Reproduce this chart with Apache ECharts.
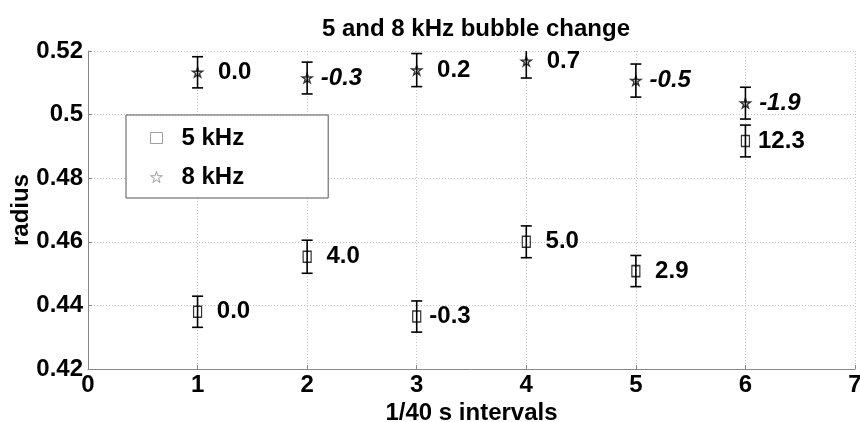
<!DOCTYPE html>
<html>
<head>
<meta charset="utf-8">
<title>5 and 8 kHz bubble change</title>
<script src="https://cdn.jsdelivr.net/npm/echarts@6/dist/echarts.min.js"></script>
<style>
  html, body { margin: 0; padding: 0; background: #fff; }
  #chart { width: 860px; height: 422px; }
</style>
</head>
<body>
<div id="chart"></div>
<script>
// Time steps (1/40 s intervals)
const steps = [1, 2, 3, 4, 5, 6];

// Mean bubble radius and error half-widths, 5 kHz
const radius5 = [0.4380, 0.4553, 0.4365, 0.4600, 0.4508, 0.4917];
const err5 = [0.0049, 0.0052, 0.0049, 0.0050, 0.0049, 0.0050];
// Percent change labels, 5 kHz
const change5 = [0.0, 4.0, -0.3, 5.0, 2.9, 12.3];

// Mean bubble radius and error half-widths, 8 kHz
const radius8 = [0.5133, 0.5115, 0.5140, 0.5168, 0.5107, 0.5036];
const err8 = [0.0049, 0.0050, 0.0052, 0.0053, 0.0052, 0.0050];
// Percent change labels, 8 kHz
const change8 = [0.0, -0.3, 0.2, 0.7, -0.5, -1.9];

const yTicks = [0.42, 0.44, 0.46, 0.48, 0.5, 0.52];
const seriesNames = ['5 kHz', '8 kHz'];

const FONT = '"Liberation Sans", Arial, Helvetica, sans-serif';
const FS = 24;
const STAR = 'path://M50,0 L61,35 L98,35 L68,57 L79,91 L50,70 L21,91 L32,57 L2,35 L39,35 Z';

// printf-style "%4.1f"
function fmt(v) { return v.toFixed(1).padStart(4, ' '); }

function pointData(radius, change, italicNeg) {
  return steps.map((x, i) => ({
    value: [x, radius[i]],
    label: {
      formatter: fmt(change[i]),
      fontStyle: (italicNeg && change[i] < 0) ? 'italic' : 'normal'
    }
  }));
}

function barData(radius, err) {
  return steps.map((x, i) => [x, radius[i] - err[i], radius[i] + err[i]]);
}

function renderErrorBar(params, api) {
  const x = api.value(0);
  const lo = api.coord([x, api.value(1)]);
  const hi = api.coord([x, api.value(2)]);
  const cap = 5.5;
  const style = { stroke: '#000', lineWidth: 1.6 };
  return {
    type: 'group',
    children: [
      { type: 'line', shape: { x1: lo[0], y1: lo[1], x2: hi[0], y2: hi[1] }, style },
      { type: 'line', shape: { x1: lo[0] - cap, y1: lo[1], x2: lo[0] + cap, y2: lo[1] }, style },
      { type: 'line', shape: { x1: hi[0] - cap, y1: hi[1], x2: hi[0] + cap, y2: hi[1] }, style }
    ]
  };
}

const labelStyle = {
  show: true,
  position: 'right',
  distance: 8,
  color: '#000',
  opacity: 1,
  textBorderWidth: 0,
  fontFamily: FONT,
  fontWeight: 'bold',
  fontSize: FS
};

const textBold = { fontFamily: FONT, fontWeight: 'bold', fontSize: FS, color: '#000' };

const chart = echarts.init(document.getElementById('chart'), null, { renderer: 'canvas' });

chart.setOption({
  animation: false,
  backgroundColor: '#fff',
  title: {
    text: '5 and 8 kHz bubble change',
    left: 471,
    textAlign: 'center',
    top: 12,
    textStyle: textBold
  },
  legend: {
    left: 126,
    top: 115,
    orient: 'vertical',
    padding: [11, 84, 9, 24],
    itemGap: 15,
    itemWidth: 12,
    itemHeight: 11,
    borderColor: '#555',
    borderWidth: 1,
    backgroundColor: '#fff',
    selectedMode: false,
    itemStyle: { color: 'rgba(0,0,0,0)', borderColor: '#888', borderWidth: 1 },
    textStyle: Object.assign({ padding: [0, 0, 0, 14] }, textBold),
    data: [
      { name: seriesNames[0], icon: 'rect' },
      { name: seriesNames[1], icon: STAR }
    ]
  },
  grid: { left: 88, right: 5, top: 51, bottom: 53, outerBoundsMode: 'none', containLabel: false },
  xAxis: {
    type: 'value',
    min: 0,
    max: 7,
    interval: 1,
    name: '1/40 s intervals',
    nameLocation: 'middle',
    nameGap: 32,
    nameMoveOverlap: false,
    nameTextStyle: textBold,
    axisLine: { show: true, onZero: false, lineStyle: { color: '#888', width: 1 } },
    axisTick: { show: true, inside: true, length: 4, lineStyle: { color: '#888' } },
    axisLabel: Object.assign({ margin: 4, hideOverlap: false }, textBold),
    splitLine: { show: true, lineStyle: { color: '#c4c4c4', type: [1, 2], width: 1 } }
  },
  yAxis: {
    type: 'value',
    min: yTicks[0],
    max: yTicks[yTicks.length - 1],
    interval: 0.02,
    name: 'radius',
    nameLocation: 'middle',
    nameGap: 55,
    nameMoveOverlap: false,
    nameRotate: 90,
    nameTextStyle: textBold,
    axisLine: { show: true, onZero: false, lineStyle: { color: '#888', width: 1 } },
    axisTick: { show: true, inside: true, length: 4, lineStyle: { color: '#888' } },
    axisLabel: Object.assign({ margin: 5, hideOverlap: false }, textBold),
    splitLine: { show: true, lineStyle: { color: '#c4c4c4', type: [1, 2], width: 1 } }
  },
  series: [
    {
      name: seriesNames[0] + ' error',
      type: 'custom',
      renderItem: renderErrorBar,
      clip: true,
      data: barData(radius5, err5),
      z: 2
    },
    {
      name: seriesNames[1] + ' error',
      type: 'custom',
      renderItem: renderErrorBar,
      clip: true,
      data: barData(radius8, err8),
      z: 2
    },
    {
      name: seriesNames[0],
      type: 'scatter',
      symbol: 'rect',
      symbolSize: [8, 11],
      itemStyle: { color: 'rgba(0,0,0,0)', borderColor: '#000', borderWidth: 1.4 },
      label: labelStyle,
      data: pointData(radius5, change5, false),
      z: 3
    },
    {
      name: seriesNames[1],
      type: 'scatter',
      symbol: STAR,
      symbolSize: 10,
      symbolKeepAspect: true,
      itemStyle: { color: 'rgba(0,0,0,0)', borderColor: '#000', borderWidth: 1.4 },
      label: labelStyle,
      data: pointData(radius8, change8, true),
      z: 3
    }
  ]
});
</script>
</body>
</html>
